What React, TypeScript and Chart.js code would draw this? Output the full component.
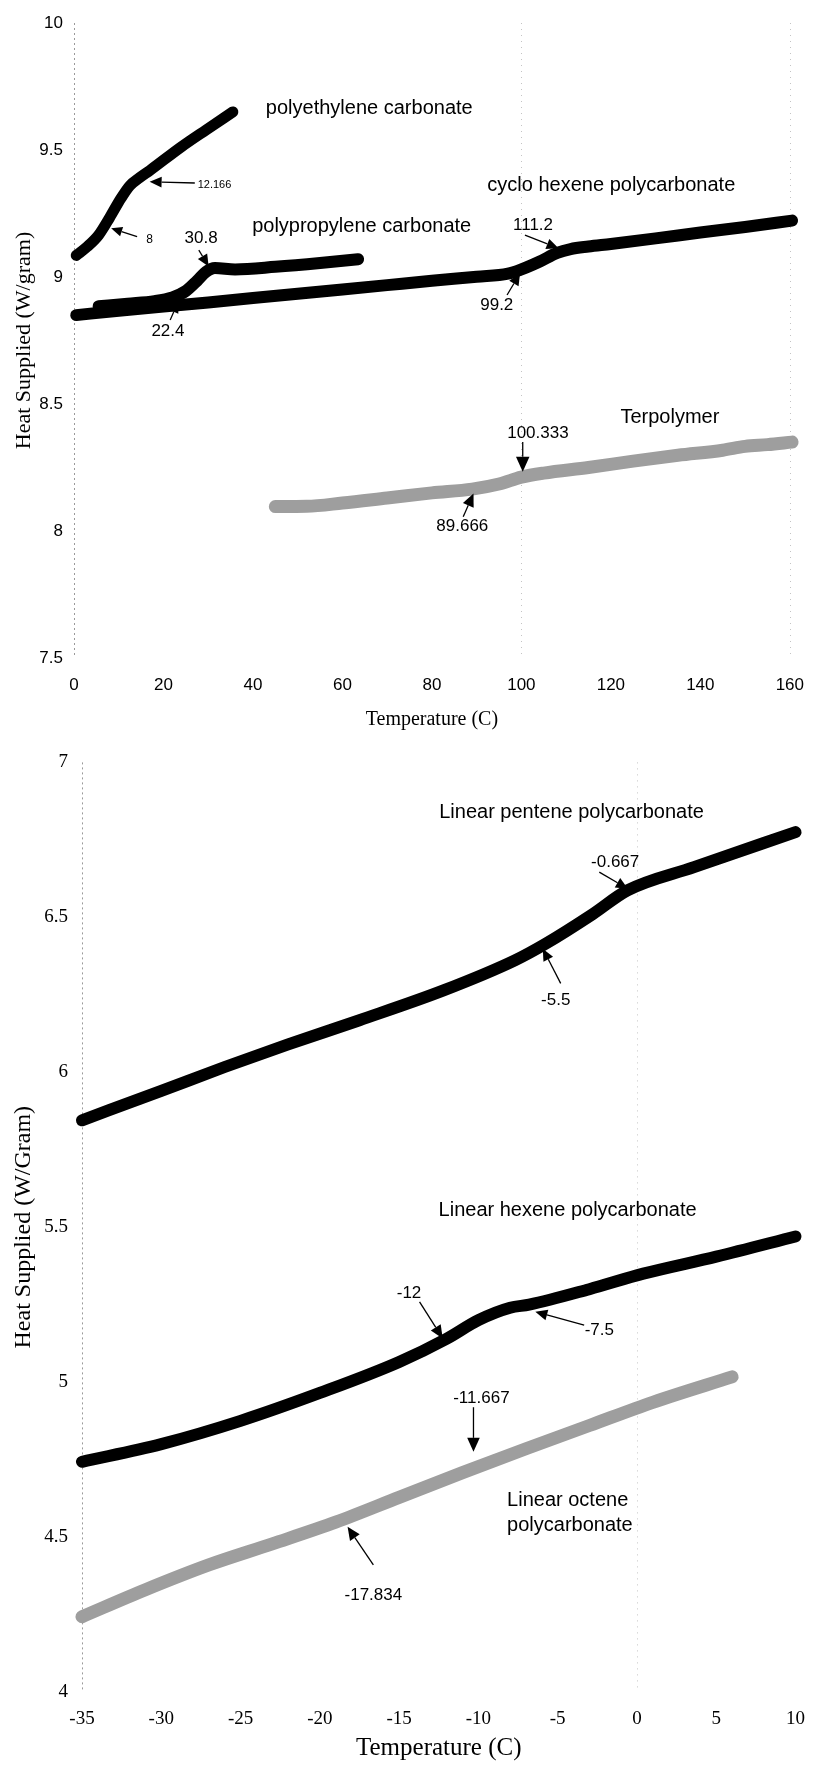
import React, { useEffect, useRef } from 'react';
import { Chart, registerables } from 'chart.js';

Chart.register(...registerables);

const SANS = '"Liberation Sans", Arial, Helvetica, sans-serif';
const SERIF = '"Liberation Serif", "Times New Roman", Times, serif';

// ---------------- Top chart data ----------------
const topXTicks = [0, 20, 40, 60, 80, 100, 120, 140, 160];
const topYTicks = [7.5, 8, 8.5, 9, 9.5, 10];
const topGridValues = [100, 160];

const polyethyleneT = [0.5, 3, 5.5, 8, 10.5, 12.5, 14.6, 17, 23.8, 29.6, 35.5];
const polyethyleneH = [9.085, 9.12, 9.165, 9.235, 9.31, 9.36, 9.39, 9.42, 9.51, 9.58, 9.65];

const polypropyleneT = [5.5, 12, 18, 22, 25, 27.5, 29.5, 31.5, 36, 45, 55, 63.5];
const polypropyleneH = [8.885, 8.895, 8.905, 8.92, 8.945, 8.985, 9.02, 9.035, 9.03, 9.04, 9.055, 9.07];

const cycloHexeneT = [0.5, 10, 20, 30, 40, 50, 60, 70, 80, 90, 97, 100, 104, 108, 111, 115, 120, 130, 140, 150, 160.5];
const cycloHexeneH = [8.85, 8.867, 8.884, 8.9, 8.917, 8.934, 8.951, 8.968, 8.985, 9.001, 9.013, 9.03, 9.06, 9.095, 9.11, 9.12, 9.13, 9.152, 9.175, 9.197, 9.222];

const terpolymerT = [45, 52, 60, 70, 80, 89, 95, 100, 105, 115, 125, 135, 145, 150, 155, 160.5];
const terpolymerH = [8.096, 8.097, 8.11, 8.13, 8.15, 8.165, 8.185, 8.212, 8.228, 8.25, 8.275, 8.298, 8.318, 8.333, 8.34, 8.35];

const topNotes = [
  { text: 'polyethylene carbonate', x: 66.0, y: 9.665, size: 20 },
  { text: 'cyclo hexene polycarbonate', x: 120.1, y: 9.362, size: 20 },
  { text: 'polypropylene carbonate', x: 64.3, y: 9.197, size: 20 },
  { text: 'Terpolymer', x: 133.2, y: 8.445, size: 20 },
  { text: '12.166', x: 31.4, y: 9.362, size: 11 },
  { text: '8', x: 16.9, y: 9.146, size: 12 },
  { text: '30.8', x: 28.4, y: 9.154, size: 17 },
  { text: '22.4', x: 21.0, y: 8.785, size: 17 },
  { text: '111.2', x: 102.6, y: 9.205, size: 17 },
  { text: '99.2', x: 94.5, y: 8.89, size: 17 },
  { text: '100.333', x: 103.7, y: 8.385, size: 17 },
  { text: '89.666', x: 86.8, y: 8.017, size: 17 },
];

const topArrows = [
  { from: [27.0, 9.37], to: [16.9, 9.375], head: 12 },
  { from: [14.1, 9.159], to: [8.3, 9.192], head: 11 },
  { from: [27.9, 9.106], to: [30.1, 9.041], head: 12 },
  { from: [21.5, 8.831], to: [23.3, 8.903], head: 11 },
  { from: [100.8, 9.165], to: [108.3, 9.113], head: 12 },
  { from: [96.8, 8.929], to: [99.7, 9.015], head: 12 },
  { from: [100.3, 8.35], to: [100.3, 8.233], head: 15 },
  { from: [87.0, 8.056], to: [89.3, 8.148], head: 13 },
];

// ---------------- Bottom chart data ----------------
const bottomXTicks = [-35, -30, -25, -20, -15, -10, -5, 0, 5, 10];
const bottomYTicks = [4, 4.5, 5, 5.5, 6, 6.5, 7];
const bottomGridValues = [0];

const penteneT = [-35, -30, -26, -22, -17.5, -12.2, -7.7, -5.75, -2.8, -0.6, 3.6, 10];
const penteneH = [5.845, 5.94, 6.017, 6.09, 6.168, 6.264, 6.361, 6.415, 6.51, 6.587, 6.662, 6.775];

const hexeneT = [-35, -30, -25, -20, -15, -12, -10, -8, -6.8, -3, 0.4, 5, 10];
const hexeneH = [4.743, 4.8, 4.875, 4.965, 5.065, 5.14, 5.2, 5.24, 5.25, 5.3, 5.35, 5.405, 5.47];

const octeneT = [-35, -31, -27, -23, -19, -15, -11, -7, -3, 1, 6];
const octeneH = [4.243, 4.33, 4.41, 4.478, 4.548, 4.628, 4.708, 4.785, 4.86, 4.935, 5.017];

const bottomNotes = [
  { text: 'Linear pentene polycarbonate', x: -4.125, y: 6.839, size: 20 },
  { text: '-0.667', x: -1.375, y: 6.678, size: 17 },
  { text: '-5.5', x: -5.125, y: 6.232, size: 17 },
  { text: 'Linear hexene polycarbonate', x: -4.375, y: 5.555, size: 20 },
  { text: '-12', x: -14.375, y: 5.286, size: 17 },
  { text: '-7.5', x: -2.375, y: 5.168, size: 17 },
  { text: '-11.667', x: -9.81, y: 4.947, size: 17 },
  { text: 'Linear octene\npolycarbonate', x: -8.19, y: 4.579, size: 20, align: 'left' },
  { text: '-17.834', x: -16.625, y: 4.313, size: 17 },
];

const bottomArrows = [
  { from: [-2.375, 6.646], to: [-0.575, 6.592], head: 12 },
  { from: [-4.81, 6.287], to: [-5.94, 6.399], head: 12 },
  { from: [-13.71, 5.259], to: [-12.25, 5.141], head: 13 },
  { from: [-3.33, 5.184], to: [-6.41, 5.227], head: 12 },
  { from: [-10.31, 4.919], to: [-10.31, 4.775], head: 14 },
  { from: [-16.625, 4.41], to: [-18.25, 4.533], head: 13 },
];

// ---------------- helpers ----------------
const BLACK = '#000000';
const GREY = '#9e9e9e';

function series(label: string, xs: number[], ys: number[], color: string, width: number) {
  return {
    label,
    data: xs.map((x, i) => ({ x, y: ys[i] })),
    borderColor: color,
    backgroundColor: color,
    borderWidth: width,
    pointRadius: 0,
    pointHoverRadius: 0,
    cubicInterpolationMode: 'monotone',
    borderCapStyle: 'round',
    borderJoinStyle: 'round',
    fill: false,
    clip: false,
  };
}

function decorPlugin(gridValues: number[]) {
  return {
    id: 'decor',
    beforeDatasetsDraw(chart: any) {
      const { ctx, chartArea, scales } = chart;
      const { left, top, bottom } = chartArea;
      ctx.save();
      ctx.lineWidth = 1;
      ctx.strokeStyle = '#9a9a9a';
      ctx.setLineDash([2, 3]);
      ctx.beginPath();
      ctx.moveTo(Math.round(left) + 0.5, top);
      ctx.lineTo(Math.round(left) + 0.5, bottom);
      ctx.stroke();
      ctx.strokeStyle = '#c4c4c4';
      ctx.setLineDash([1, 5]);
      for (const v of gridValues) {
        const px = Math.round(scales.x.getPixelForValue(v)) + 0.5;
        ctx.beginPath();
        ctx.moveTo(px, top);
        ctx.lineTo(px, bottom);
        ctx.stroke();
      }
      ctx.restore();
    },
  };
}

function notesPlugin(notes: any[], arrows: any[]) {
  return {
    id: 'notes',
    afterDatasetsDraw(chart: any) {
      const { ctx, scales } = chart;
      const sx = (v: number) => scales.x.getPixelForValue(v);
      const sy = (v: number) => scales.y.getPixelForValue(v);
      ctx.save();
      ctx.fillStyle = '#000';
      ctx.strokeStyle = '#000';
      ctx.lineWidth = 1.3;
      for (const a of arrows) {
        const x1 = sx(a.from[0]);
        const y1 = sy(a.from[1]);
        const x2 = sx(a.to[0]);
        const y2 = sy(a.to[1]);
        const dx = x2 - x1;
        const dy = y2 - y1;
        const len = Math.hypot(dx, dy) || 1;
        const ux = dx / len;
        const uy = dy / len;
        const h = a.head || 12;
        const w = h * 0.45;
        const bx = x2 - ux * h;
        const by = y2 - uy * h;
        ctx.beginPath();
        ctx.moveTo(x1, y1);
        ctx.lineTo(bx, by);
        ctx.stroke();
        ctx.beginPath();
        ctx.moveTo(x2, y2);
        ctx.lineTo(bx - uy * w, by + ux * w);
        ctx.lineTo(bx + uy * w, by - ux * w);
        ctx.closePath();
        ctx.fill();
      }
      ctx.textBaseline = 'middle';
      for (const n of notes) {
        ctx.font = `${n.size}px ${SANS}`;
        ctx.textAlign = n.align || 'center';
        const lines = String(n.text).split('\n');
        const lh = n.size * 1.25;
        const cx = sx(n.x);
        const cy = sy(n.y);
        lines.forEach((line: string, i: number) => {
          ctx.fillText(line, cx, cy + (i - (lines.length - 1) / 2) * lh);
        });
      }
      ctx.restore();
    },
  };
}

const plainLabel = (v: number | string) => String(Number(v));

function makeConfig(opts: any) {
  return {
    type: 'line',
    data: { datasets: opts.datasets },
    options: {
      responsive: false,
      maintainAspectRatio: false,
      animation: false,
      devicePixelRatio: 1,
      events: [],
      layout: { padding: { ...opts.padding } },
      plugins: { legend: { display: false }, tooltip: { enabled: false }, title: { display: false } },
      scales: {
        x: {
          type: 'linear',
          min: opts.xMin,
          max: opts.xMax,
          afterBuildTicks: (s: any) => {
            s.ticks = opts.xTicks.map((v: number) => ({ value: v }));
          },
          afterFit: (s: any) => {
            s.height = opts.xHeight;
          },
          grid: { display: false },
          border: { display: false },
          ticks: {
            autoSkip: false,
            maxRotation: 0,
            color: '#000',
            padding: opts.xTickPad,
            font: { family: opts.tickFamily, size: opts.tickSize },
            callback: plainLabel,
          },
          title: {
            display: true,
            text: 'Temperature (C)',
            color: '#000',
            font: { family: SERIF, size: opts.xTitleSize },
            padding: { top: 0, bottom: opts.xTitlePad },
          },
        },
        y: {
          type: 'linear',
          min: opts.yMin,
          max: opts.yMax,
          afterBuildTicks: (s: any) => {
            s.ticks = opts.yTicks.map((v: number) => ({ value: v }));
          },
          afterFit: (s: any) => {
            s.width = opts.yWidth;
          },
          grid: { display: false },
          border: { display: false },
          ticks: {
            autoSkip: false,
            color: '#000',
            padding: opts.yTickPad,
            font: { family: opts.tickFamily, size: opts.tickSize },
            callback: plainLabel,
          },
          title: {
            display: true,
            text: opts.yTitle,
            color: '#000',
            font: { family: SERIF, size: opts.yTitleSize },
            padding: { top: opts.yTitlePad, bottom: 0 },
          },
        },
      },
    },
    plugins: [decorPlugin(opts.gridValues), notesPlugin(opts.notes, opts.arrows)],
  };
}

// nudge the right padding so the plot area ends where the axis should end
function fitRight(chart: any, targetRight: number) {
  for (let i = 0; i < 3; i++) {
    const diff = targetRight - chart.chartArea.right;
    if (Math.abs(diff) < 0.3) break;
    const p = chart.options.layout.padding;
    p.right = Math.max(0, p.right - diff);
    chart.update();
  }
}

export default function App() {
  const topRef = useRef<HTMLCanvasElement>(null);
  const bottomRef = useRef<HTMLCanvasElement>(null);

  useEffect(() => {
    const topChart = new Chart(
      topRef.current as HTMLCanvasElement,
      makeConfig({
        datasets: [
          series('polyethylene carbonate', polyethyleneT, polyethyleneH, BLACK, 11),
          series('cyclo hexene polycarbonate', cycloHexeneT, cycloHexeneH, BLACK, 12),
          series('polypropylene carbonate', polypropyleneT, polypropyleneH, BLACK, 12),
          series('Terpolymer', terpolymerT, terpolymerH, GREY, 13),
        ],
        padding: { top: 23, right: 11, left: 0, bottom: 0 },
        xMin: 0,
        xMax: 160,
        xTicks: topXTicks,
        xHeight: 87,
        xTickPad: 9,
        yMin: 7.5,
        yMax: 10,
        yTicks: topYTicks,
        yWidth: 74,
        yTickPad: 3,
        tickFamily: SANS,
        tickSize: 17,
        xTitleSize: 20,
        xTitlePad: 13,
        yTitle: 'Heat Supplied (W/gram)',
        yTitleSize: 22,
        yTitlePad: 11,
        gridValues: topGridValues,
        notes: topNotes,
        arrows: topArrows,
      }) as any
    );
    fitRight(topChart, 796);

    const bottomChart = new Chart(
      bottomRef.current as HTMLCanvasElement,
      makeConfig({
        datasets: [
          series('Linear pentene polycarbonate', penteneT, penteneH, BLACK, 12),
          series('Linear hexene polycarbonate', hexeneT, hexeneH, BLACK, 12),
          series('Linear octene polycarbonate', octeneT, octeneH, GREY, 13),
        ],
        padding: { top: 17, right: 2, left: 0, bottom: 0 },
        xMin: -35,
        xMax: 10,
        xTicks: bottomXTicks,
        xHeight: 77,
        xTickPad: 8,
        yMin: 4,
        yMax: 7,
        yTicks: bottomYTicks,
        yWidth: 82,
        yTickPad: 6,
        tickFamily: SERIF,
        tickSize: 19,
        xTitleSize: 25,
        xTitlePad: 6,
        yTitle: 'Heat Supplied (W/Gram)',
        yTitleSize: 24,
        yTitlePad: 9,
        gridValues: bottomGridValues,
        notes: bottomNotes,
        arrows: bottomArrows,
      }) as any
    );
    fitRight(bottomChart, 802);

    return () => {
      topChart.destroy();
      bottomChart.destroy();
    };
  }, []);

  return (
    <div style={{ position: 'absolute', left: 0, top: 0, width: 813, height: 1769, background: '#ffffff' }}>
      <canvas ref={topRef} width={813} height={745} style={{ display: 'block', width: 813, height: 745 }} />
      <canvas ref={bottomRef} width={813} height={1024} style={{ display: 'block', width: 813, height: 1024 }} />
    </div>
  );
}
